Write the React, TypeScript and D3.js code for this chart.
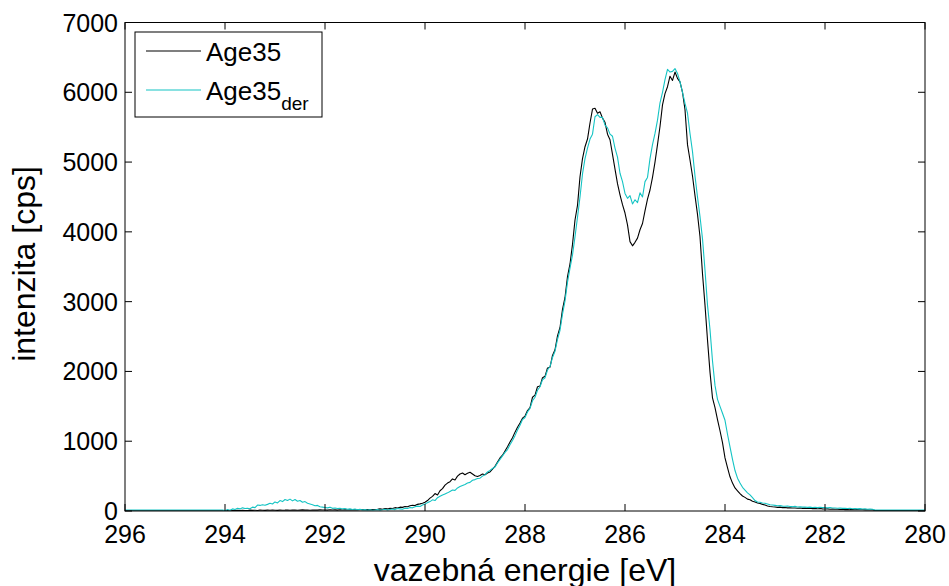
import React from 'react';
import * as d3 from 'd3';

// Energy grid: 296 eV down to 280 eV, 0.05 eV step (321 samples)
const E_START = 296;
const E_STEP = 0.05;

const xTickValues = [296, 294, 292, 290, 288, 286, 284, 282, 280];
const yTickValues = [0, 1000, 2000, 3000, 4000, 5000, 6000, 7000];
const seriesNames = ['Age35', 'Age35'];
const seriesSubs = ['', 'der'];
const seriesColors = ['#000000', '#14c4c4'];

const age35 = [
  3,3,3,3,3,3,3,3,3,3,3,3,3,3,3,3,3,3,3,3,
  3,3,3,3,3,3,3,3,3,3,3,3,3,3,3,3,3,3,3,3,
  3,6,4,8,5,9,6,10,7,8,12,9,11,8,13,10,9,12,10,14,
  11,9,13,10,12,15,11,14,12,10,13,16,12,14,11,15,13,12,16,14,
  15,12,17,14,16,13,18,15,17,14,19,16,18,15,20,17,19,22,18,21,
  22,25,30,26,34,30,40,36,48,44,55,52,65,60,75,82,78,95,102,110,
  125,150,185,210,250,230,290,320,370,400,420,460,445,500,530,545,520,540,555,530,
  505,495,510,530,520,545,560,600,640,700,760,800,860,920,990,1050,1130,1200,1260,1330,
  1360,1440,1480,1630,1660,1780,1790,1910,1930,2050,2060,2230,2310,2510,2630,2890,3060,3360,3540,3820,
  4170,4380,4790,5050,5220,5330,5560,5760,5770,5700,5720,5630,5570,5400,5320,5110,4900,4690,4530,4390,
  4270,4100,3860,3800,3850,3910,4030,4120,4300,4470,4600,4780,5000,5250,5510,5820,5980,6080,6230,6170,
  6290,6200,6150,6000,5750,5250,5030,4800,4520,4250,3930,3400,2950,2450,1990,1620,1480,1310,1150,980,
  760,620,490,400,330,290,250,215,195,170,160,140,130,115,108,95,85,72,65,60,
  57,52,55,48,50,45,47,42,44,40,43,38,41,36,39,34,37,32,35,30,
  28,30,26,27,24,26,22,24,20,22,19,21,18,20,17,18,16,17,15,16,
  8,8,8,8,8,8,8,8,8,8,8,8,8,8,8,8,8,8,8,8,8,
];

const age35der = [
  15,15,15,15,15,15,15,15,15,15,15,15,15,15,15,15,15,15,15,15,
  15,15,15,15,15,15,15,15,15,15,15,15,15,15,15,15,15,15,15,15,
  5,20,12,30,22,38,30,45,35,40,32,55,48,85,80,90,82,95,110,100,
  130,115,150,135,165,150,170,145,165,140,150,125,135,110,100,90,75,80,60,55,
  50,45,55,38,42,35,40,30,36,25,30,22,28,18,25,15,20,12,18,10,
  15,20,12,18,25,15,22,28,20,35,30,25,40,35,50,45,60,70,65,85,
  100,120,135,160,150,190,210,230,245,260,280,300,295,330,350,365,380,400,410,440,
  450,465,470,500,520,560,580,610,630,690,740,790,840,880,950,1010,1080,1160,1230,1310,
  1340,1420,1470,1580,1630,1730,1780,1880,1910,2020,2070,2200,2290,2460,2590,2820,3010,3280,3480,3670,
  3930,4210,4500,4830,5050,5200,5330,5400,5650,5680,5640,5640,5530,5490,5400,5370,5200,5070,4840,4720,
  4550,4480,4520,4400,4460,4420,4560,4500,4720,4780,5050,5250,5410,5600,5850,6000,6180,6330,6290,6300,
  6340,6270,6150,6000,5840,5700,5410,5150,4800,4500,4220,3900,3450,2950,2600,2150,1800,1600,1500,1400,
  1300,1100,920,740,580,470,400,340,300,260,230,190,150,130,125,115,110,100,90,85,
  80,75,78,70,68,72,65,62,66,58,60,55,58,52,56,50,53,48,52,50,
  48,45,50,42,44,40,43,38,40,35,38,33,36,30,34,28,30,26,28,24,
  14,14,14,14,14,14,14,14,14,14,14,14,14,14,14,14,14,14,14,14,14,
];

const seriesData = [age35, age35der];

const W = 949;
const H = 586;
const LEFT = 125;
const RIGHT = 925;
const TOP = 22.5;
const BOTTOM = 511;
const TICK = 7;
const FONT = '"Liberation Sans", Arial, Helvetica, sans-serif';

export default function App() {
  const x = d3.scaleLinear().domain([296, 280]).range([LEFT, RIGHT]);
  const y = d3.scaleLinear().domain([0, 7000]).range([BOTTOM, TOP]);

  const line = d3
    .line<[number, number]>()
    .x((d) => x(d[0]))
    .y((d) => y(d[1]));

  const paths = seriesData.map((vals) =>
    line(vals.map((v, i) => [E_START - i * E_STEP, v] as [number, number])) || ''
  );

  return (
    <div style={{ position: 'absolute', left: 0, top: 0 }}>
      <svg width={W} height={H} viewBox={`0 0 ${W} ${H}`} style={{ display: 'block', background: '#fff' }}>
        <defs>
          <clipPath id="plotclip">
            <rect x={LEFT} y={TOP} width={RIGHT - LEFT} height={BOTTOM - TOP} />
          </clipPath>
        </defs>
        <rect x={0} y={0} width={W} height={H} fill="#fff" />

        {/* data lines */}
        <g clipPath="url(#plotclip)">
          {paths.map((p, i) => (
            <path key={i} d={p} fill="none" stroke={seriesColors[i]} strokeWidth={1.1} strokeLinejoin="round" />
          ))}
        </g>

        {/* axes box */}
        <rect x={LEFT} y={TOP} width={RIGHT - LEFT} height={BOTTOM - TOP} fill="none" stroke="#000" strokeWidth={1} />

        {/* x ticks */}
        {xTickValues.map((t) => (
          <g key={'xt' + t}>
            <line x1={x(t)} x2={x(t)} y1={BOTTOM} y2={BOTTOM - TICK} stroke="#000" strokeWidth={1} />
            <line x1={x(t)} x2={x(t)} y1={TOP} y2={TOP + TICK} stroke="#000" strokeWidth={1} />
            <text x={x(t)} y={543} textAnchor="middle" fontFamily={FONT} fontSize={25} fill="#000">
              {t}
            </text>
          </g>
        ))}

        {/* y ticks */}
        {yTickValues.map((t) => (
          <g key={'yt' + t}>
            <line x1={LEFT} x2={LEFT + TICK} y1={y(t)} y2={y(t)} stroke="#000" strokeWidth={1} />
            <line x1={RIGHT} x2={RIGHT - TICK} y1={y(t)} y2={y(t)} stroke="#000" strokeWidth={1} />
            <text x={LEFT - 7} y={y(t)} dy="0.36em" textAnchor="end" fontFamily={FONT} fontSize={25} fill="#000">
              {t}
            </text>
          </g>
        ))}

        {/* axis labels */}
        <text x={(LEFT + RIGHT) / 2} y={581} textAnchor="middle" fontFamily={FONT} fontSize={32} fill="#000">
          vazebná energie [eV]
        </text>
        <text
          transform={`translate(35, ${264}) rotate(-90)`}
          textAnchor="middle"
          fontFamily={FONT}
          fontSize={32}
          fill="#000"
        >
          intenzita [cps]
        </text>

        {/* legend */}
        <g>
          <rect x={135} y={32} width={187} height={85} fill="#fff" stroke="#000" strokeWidth={1} />
          {seriesNames.map((name, i) => {
            const ly = i === 0 ? 51 : 90;
            return (
              <g key={'lg' + i}>
                <line x1={146} x2={201} y1={ly} y2={ly} stroke={seriesColors[i]} strokeWidth={1.1} />
                <text x={206} y={ly + 10} fontFamily={FONT} fontSize={26} fill="#000">
                  {name}
                  {seriesSubs[i] ? (
                    <tspan fontSize={19} dy={10}>
                      {seriesSubs[i]}
                    </tspan>
                  ) : null}
                </text>
              </g>
            );
          })}
        </g>
      </svg>
    </div>
  );
}
